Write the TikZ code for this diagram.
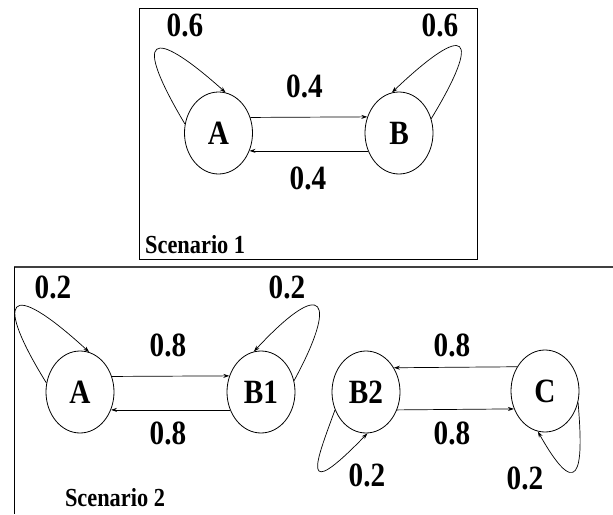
\documentclass[tikz,border=0pt]{standalone}
\usepackage{fontspec}
\setmainfont{Liberation Serif}[FakeStretch=0.86]
\usetikzlibrary{shapes.geometric,arrows.meta}
\tikzset{
  st/.style={ellipse, draw, line width=0.8pt, minimum width=68pt, minimum height=82pt, inner sep=0pt,
    font=\bfseries\fontsize{34}{34}\selectfont},
  lbl/.style={font=\bfseries\fontsize{34}{34}\selectfont, inner sep=0pt},
  scen/.style={font=\bfseries\fontsize{26}{26}\selectfont, inner sep=0pt},
  arr/.style={-{Stealth[length=6pt,width=4pt]}, line width=0.7pt},
  frame/.style={line width=0.9pt}
}
\begin{document}
\begin{tikzpicture}[x=1pt,y=-1pt]
\useasboundingbox (0,0) rectangle (613,514);
% frames
\draw[frame] (139,8) rectangle (477,259);
\draw[line width=1.6pt, black!75] (613,267) -- (14,267);
\draw[frame] (14,267) -- (14,514);
% Scenario 1
\node[st] (a1) at (218.5,133) {A};
\node[st] (b1) at (399,133) {B};
\draw[arr] (a1.26.7) -- (b1.153.3);
\draw[arr] (b1.210) -- (a1.-30);
\draw[arr] (a1.165) .. controls (132,35) and (150,25) .. (a1.80);
\draw[arr] (b1.24) .. controls (482,35) and (468,20) .. (b1.100);
\node[lbl] (l1) at (304.5,86) {0.4};
\node[lbl] (l2) at (308,178) {0.4};
\node[lbl] (l3) at (185,25) {0.6};
\node[lbl] (l4) at (440,25) {0.6};
\node[scen, anchor=west] (s1) at (145,245) {Scenario 1};
% Scenario 2
\node[st] (a2) at (80,392) {A};
\node[st] (bb1) at (261,392) {B1};
\node[st] (bb2) at (366,392) {B2};
\node[st] (c) at (545,391) {C};
\draw[arr] (a2.26.7) -- (bb1.153.3);
\draw[arr] (bb1.210) -- (a2.-30);
\draw[arr] (c.139) -- (bb2.41);
\draw[arr] (bb2.-30) -- (c.210);
\draw[arr] (a2.165) .. controls (-5,300) and (5,275) .. (a2.77);
\draw[arr] (bb1.19) .. controls (338,300) and (325,275) .. (bb1.100);
\draw[arr] (bb2.210) .. controls (316,462) and (298,505) .. (bb2.272);
\draw[arr] (c.341) .. controls (582,450) and (585,515) .. (c.260);
\node[lbl] (m1) at (168,345) {0.8};
\node[lbl] (m2) at (168,433) {0.8};
\node[lbl] (m3) at (452,345) {0.8};
\node[lbl] (m4) at (452,433) {0.8};
\node[lbl] (m5) at (53,287) {0.2};
\node[lbl] (m6) at (287,287) {0.2};
\node[lbl] (m7) at (367,475) {0.2};
\node[lbl] (m8) at (525,478) {0.2};
\node[scen, anchor=base] (s2) at (115,506) {Scenario 2};
\end{tikzpicture}
\end{document}
